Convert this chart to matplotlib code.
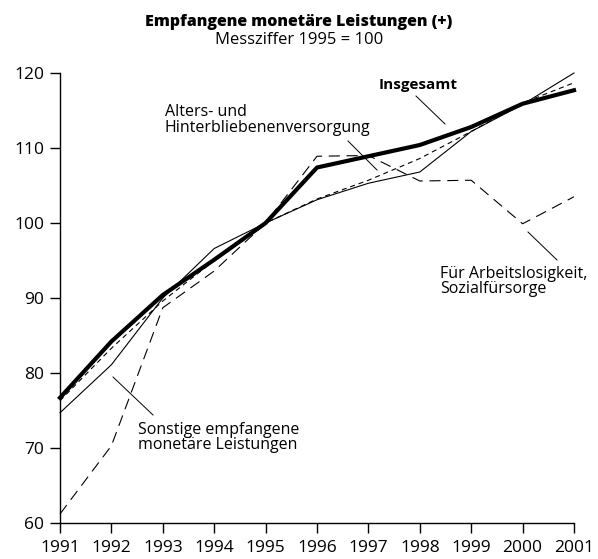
import matplotlib
matplotlib.use("Agg")
import matplotlib.pyplot as plt

years = [1991, 1992, 1993, 1994, 1995, 1996, 1997, 1998, 1999, 2000, 2001]
insgesamt = [76.7, 84.2, 90.4, 95.1, 100, 107.4, 108.9, 110.4, 112.8, 115.9, 117.7]
alters = [76.3, 83.3, 89.6, 95.0, 100, 103.2, 105.7, 108.6, 112.2, 116.0, 118.7]
arbeitslos = [61.2, 70.3, 88.7, 93.6, 100, 108.9, 109.0, 105.6, 105.7, 99.9, 103.5]
sonstige = [74.7, 81.1, 90.0, 96.6, 100, 103.1, 105.3, 106.8, 112.2, 115.8, 120.0]

yticks = [60, 70, 80, 90, 100, 110, 120]

plt.rcParams['font.family'] = ['Open Sans', 'DejaVu Sans']

fig = plt.figure(figsize=(5.98, 5.59), dpi=100)
ax = fig.add_axes([60/598, 1-523/559, (574-60)/598, (523-73)/559])

ax.plot(years, sonstige, color='black', lw=0.8, clip_on=False)
ax.plot(years, alters, color='black', lw=0.8, dashes=(4.5, 3.5), clip_on=False)
ax.plot(years, arbeitslos, color='black', lw=0.8, dashes=(10, 6), clip_on=False)
ax.plot(years, insgesamt, color='black', lw=3.0, clip_on=False)

ax.set_xlim(1991, 2001)
ax.set_ylim(60, 120)
ax.set_xticks(years)
ax.set_yticks(yticks)
ax.tick_params(axis='both', labelsize=12.5, direction='out', length=7.5, width=1, color='black')
ax.tick_params(axis='x', pad=5)
ax.tick_params(axis='y', pad=4)
for s in ['top', 'right']:
    ax.spines[s].set_visible(False)
for s in ['left', 'bottom']:
    ax.spines[s].set_linewidth(1.0)

fig.text(0.5, 1-22/559, 'Empfangene monetäre Leistungen (+)', ha='center', va='center',
         fontsize=11.5, fontweight='heavy')
fig.text(0.5, 1-40/559, 'Messziffer 1995 = 100', ha='center', va='center', fontsize=12)

def px(x, y):
    return (x/598, 1-y/559)

# annotations
fig.text(*px(379, 85), 'Insgesamt', ha='left', va='center', fontsize=11, fontweight='bold')
fig.add_artist(plt.Line2D([416/598, 445/598], [1-96/559, 1-124/559], color='black', lw=0.7))

fig.text(*px(165, 120), 'Alters- und\nHinterbliebenenversorgung', ha='left', va='center',
         fontsize=11.5, linespacing=0.95)
fig.add_artist(plt.Line2D([348/598, 377/598], [1-141/559, 1-170/559], color='black', lw=0.7))

fig.text(*px(440, 281.5), 'Für Arbeitslosigkeit,\nSozialfürsorge', ha='left', va='center',
         fontsize=11.5, linespacing=0.95)
fig.add_artist(plt.Line2D([528/598, 557/598], [1-232/559, 1-260/559], color='black', lw=0.7))

fig.text(*px(138, 437.5), 'Sonstige empfangene\nmonetäre Leistungen', ha='left', va='center',
         fontsize=11.5, linespacing=0.95)
fig.add_artist(plt.Line2D([113/598, 153/598], [1-377/559, 1-415/559], color='black', lw=0.7))

fig.savefig('out.png', dpi=100)
